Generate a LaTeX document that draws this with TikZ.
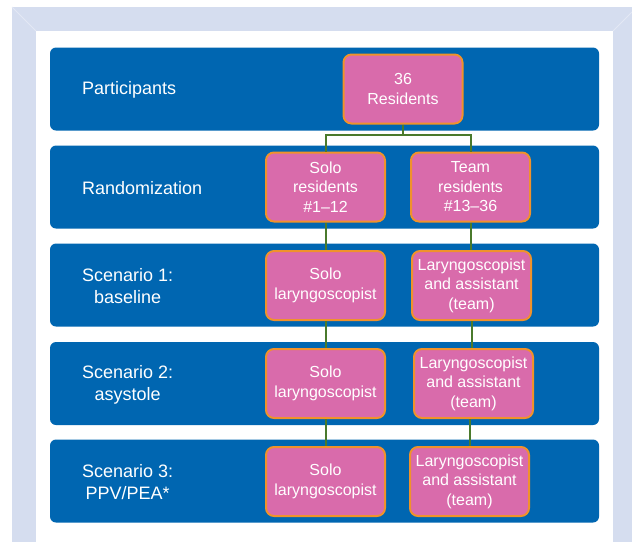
\documentclass[tikz,border=0pt]{standalone}
\usepackage{fontspec}
\setmainfont{Liberation Sans}
\usepackage{xcolor}

\definecolor{bandblue}{HTML}{0066B1}
\definecolor{boxpink}{HTML}{D96BAB}
\definecolor{boxedge}{HTML}{F0922B}
\definecolor{linkgreen}{HTML}{4A7A2C}
\definecolor{framelav}{HTML}{D5DDEF}
\definecolor{framelight}{HTML}{E3E8F4}

\tikzset{
    band/.style={fill=bandblue, rounded corners=6pt, minimum width=549pt, minimum height=83pt, inner sep=0pt},
    stage/.style={anchor=west, inner sep=0pt, text=white, align=center, font=\fontsize{18}{22}\selectfont},
    group/.style={draw=boxedge, fill=boxpink, line width=2pt, rounded corners=8pt,
        minimum width=119pt, minimum height=69pt, inner sep=1pt,
        text=white, align=center, font=\fontsize{16}{19.5}\selectfont},
    link/.style={draw=linkgreen, line width=2pt}
}

\begin{document}
\begin{tikzpicture}[x=1pt,y=-1pt]
        \useasboundingbox (0,0) rectangle (632,542);

        % frame
        \fill[framelav] (12,7) rectangle (632,542);
        \fill[white] (36,31) rectangle (613,542);
        \draw[framelight, line width=0.8pt] (12,7) -- (36,31);
        \draw[framelight, line width=0.8pt] (613,31) -- (632,12);

        % bands
        \node[band] (band1) at (324.5,89) {};
        \node[band] (band2) at (324.5,187) {};
        \node[band] (band3) at (324.5,285) {};
        \node[band] (band4) at (324.5,383.5) {};
        \node[band] (band5) at (324.5,481) {};

        % stage names
        \node[stage] (lab1) at (82,90) {Participants};
        \node[stage] (lab2) at (82,188) {Randomization};
        \node[stage] (lab3) at (82,286) {Scenario 1:\\baseline};
        \node[stage] (lab4) at (82,384.5) {Scenario 2:\\asystole};
        \node[stage] (lab5) at (82,482) {Scenario 3:\\PPV/PEA*};

        % groups
        \node[group] (res) at (403,89) {36\\Residents};
        \node[group] (solo2) at (325.5,187) {Solo\\residents\\\#1--12};
        \node[group] (team2) at (470.5,187) {Team\\residents\\\#13--36};
        \node[group] (solo3) at (325.5,285.5) {Solo\\laryngoscopist};
        \node[group] (team3) at (471.5,285.5) {Laryngoscopist\\and assistant\\(team)};
        \node[group] (solo4) at (325.5,383.5) {Solo\\laryngoscopist};
        \node[group] (team4) at (473.5,383.5) {Laryngoscopist\\and assistant\\(team)};
        \node[group] (solo5) at (325.5,481.5) {Solo\\laryngoscopist};
        \node[group] (team5) at (469.5,481.5) {Laryngoscopist\\and assistant\\(team)};

        % res -> solo / team
        \draw[link] (res.south) -- ++(0,10) coordinate (split);
        \draw[link] (solo2.north) |- (split) -| (team2.north);

        % solo column
        \draw[link] (solo2.south) -- (solo3.north);
        \draw[link] (solo3.south) -- (solo4.north);
        \draw[link] (solo4.south) -- (solo5.north);

        % team column
        \draw[link] (team2.south) -- (team2.south |- team3.north);
        \draw[link] (team3.south) -- (team3.south |- team4.north);
        \draw[link] (team5.north |- team4.south) -- (team5.north);
\end{tikzpicture}
\end{document}
